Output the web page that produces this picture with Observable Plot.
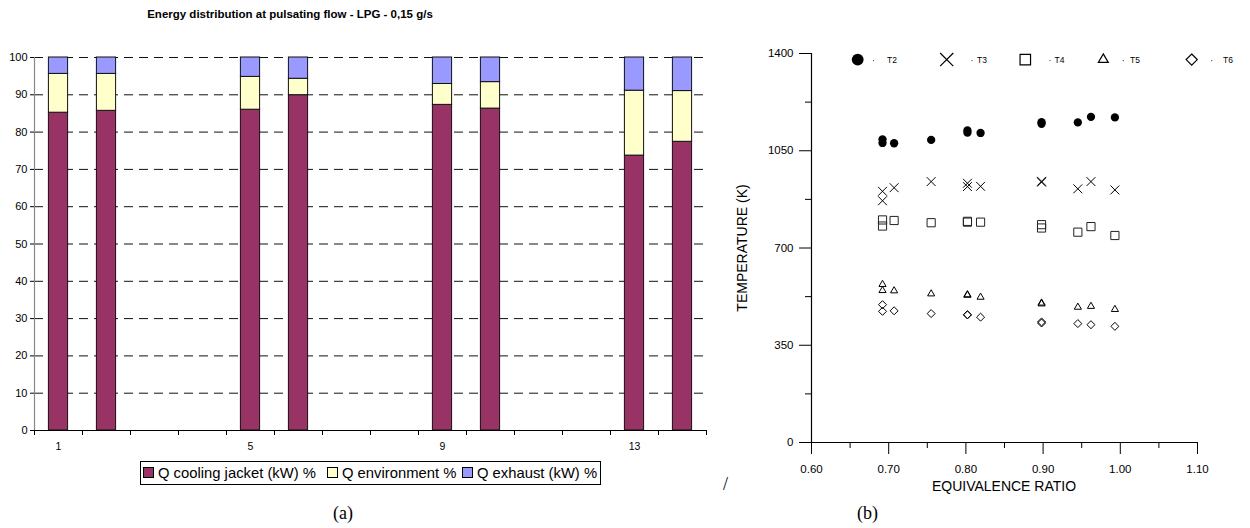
<!DOCTYPE html>
<html><head><meta charset="utf-8">
<script src="https://cdn.jsdelivr.net/npm/d3@7"></script>
<script src="https://cdn.jsdelivr.net/npm/@observablehq/plot@0.6"></script>
<style>
html,body{margin:0;padding:0;background:#fff;}
body{width:1250px;height:528px;position:relative;overflow:hidden;font-family:"Liberation Sans",Arial,sans-serif;color:#000;}
.abs{position:absolute;}
.sw{position:absolute;top:5px;width:11px;height:11px;border:1px solid #000;box-sizing:border-box;}
.lt{position:absolute;top:1px;font-size:14.8px;line-height:20px;white-space:nowrap;}
.cap{position:absolute;font-family:"Liberation Serif","Times New Roman",serif;font-size:18px;line-height:20px;}
</style></head><body>
<div id="titleA" class="abs" style="left:0;top:7px;width:580px;text-align:center;font-weight:bold;font-size:11.5px;line-height:14px;">Energy distribution at pulsating flow - LPG - 0,15 g/s</div>
<div id="left" class="abs" style="left:0;top:0"></div>
<div id="right" class="abs" style="left:720px;top:0"></div>
<div id="legA" class="abs" style="left:140px;top:461px;width:461px;height:24px;border:1px solid #000;box-sizing:border-box;"></div>
<div class="cap" style="left:333px;top:503px;">(a)</div>
<div class="cap" style="left:723px;top:474px;">/</div>
<div class="cap" style="left:857px;top:503px;">(b)</div>
<div class="abs" style="left:742px;top:248px;transform:translate(-50%,-50%) rotate(-90deg);font-size:14px;white-space:nowrap;">TEMPERATURE (K)</div>
<div class="abs" style="left:1004px;top:478px;transform:translateX(-50%);font-size:14px;white-space:nowrap;">EQUIVALENCE RATIO</div>
<svg id="legB" class="abs" style="left:0;top:0" width="1250" height="80"></svg>
<script>
// ---------- (a) energy distribution data ----------
const runNumbers     = [1, 2, 5, 6, 9, 10, 13, 14];
const qCoolingJacket = [85.2, 85.7, 86.0, 89.9, 87.3, 86.3, 73.7, 77.4];
const qEnvironment   = [10.4, 9.9, 8.8, 4.4, 5.6, 7.1, 17.4, 13.6];
const qExhaust       = [4.4, 4.4, 5.2, 5.7, 7.1, 6.6, 8.9, 9.0];
const seriesNames  = ["Q cooling jacket (kW) %", "Q environment %", "Q exhaust (kW) %"];
const seriesColors = ["#993366", "#FFFFCC", "#9999FF"];
const runBoundaryTicks = [0.5,1.5,2.5,3.5,4.5,5.5,6.5,7.5,8.5,9.5,10.5,11.5,12.5,13.5,14.5];
const runLabelTicks = [1, 5, 9, 13];
const pctTicks = [0,10,20,30,40,50,60,70,80,90,100];
const pctGrid  = [10,20,30,40,50,60,70,80,90,100];

// ---------- (b) temperature data ----------
const equivalenceRatio = [0.692,0.692,0.707,0.755,0.802,0.802,0.819,0.898,0.898,0.945,0.962,0.993];
const T2 = [1091,1078,1077,1089,1123,1115,1114,1153,1147,1152,1172,1170];
const T3 = [904,870,917,939,933,921,922,940,937,913,939,909];
const T4 = [801,779,799,791,796,793,793,784,772,757,777,745];
const T5 = [569,547,546,535,532,530,523,502,499,487,490,479];
const T6 = [496,472,474,464,460,459,451,434,430,428,424,418];
const tempMajorTicks = [0,350,700,1050,1400];
const tempMinorTicks = [175,525,875,1225];
const phiMajorTicks = [0.6,0.7,0.8,0.9,1.0,1.1];
const phiMinorTicks = [0.65,0.75,0.85,0.95,1.05];

// ---------- chart (a) ----------
const seriesValues = [qCoolingJacket, qEnvironment, qExhaust];
const energyRows = [];
runNumbers.forEach((run, i) => {
  seriesNames.forEach((s, k) => energyRows.push({run, series: s, value: seriesValues[k][i]}));
});
const halfBar = 0.2;
const chartA = Plot.plot({
  width: 720, height: 460,
  marginLeft: 34, marginRight: 14, marginTop: 57, marginBottom: 30,
  style: {fontFamily: "Liberation Sans, Arial, sans-serif", fontSize: "11px", background: "none", color: "#000"},
  x: {domain: [0.5, 14.5], label: null},
  y: {domain: [0, 100], label: null},
  color: {domain: seriesNames, range: seriesColors},
  marks: [
    Plot.ruleY(pctGrid, {stroke: "#111", strokeWidth: 1, strokeDasharray: "9,6"}),
    Plot.rectY(energyRows, Plot.stackY({x1: d => d.run - halfBar, x2: d => d.run + halfBar, y: "value", fill: "series", stroke: "#111", strokeWidth: 1})),
    Plot.ruleX([0.5], {y1: 0, y2: 100, stroke: "#888", strokeWidth: 1.2}),
    Plot.ruleY([0], {stroke: "#000", strokeWidth: 1.2}),
    Plot.axisY({ticks: pctTicks, tickSize: 4, tickPadding: 3, fontSize: 11, label: null, tickFormat: d => String(d)}),
    Plot.axisX({ticks: runBoundaryTicks, tickSize: 5, label: null, tickFormat: () => ""}),
    Plot.axisX({ticks: runLabelTicks, tickSize: 0, tickPadding: 12, fontSize: 10.5, label: null, tickFormat: d => String(d)})
  ]
});
document.getElementById("left").appendChild(chartA);

// legend (a)
const legA = document.getElementById("legA");
const swLeft = [2, 186, 321], txLeft = [17, 201, 336];
seriesNames.forEach((s, k) => {
  const sw = document.createElement("div"); sw.className = "sw"; sw.style.left = swLeft[k] + "px"; sw.style.background = seriesColors[k];
  const tx = document.createElement("div"); tx.className = "lt"; tx.style.left = txLeft[k] + "px"; tx.textContent = s;
  legA.appendChild(sw); legA.appendChild(tx);
});

// ---------- chart (b) ----------
const seriesT = [["T2", T2], ["T3", T3], ["T4", T4], ["T5", T5], ["T6", T6]];
const tempRows = [];
seriesT.forEach(([name, arr]) => arr.forEach((t, i) => tempRows.push({name, phi: equivalenceRatio[i], t})));
const rowsOf = n => tempRows.filter(d => d.name === n);
const chartB = Plot.plot({
  width: 530, height: 500,
  marginLeft: 91, marginRight: 53, marginTop: 53, marginBottom: 58,
  style: {fontFamily: "Liberation Sans, Arial, sans-serif", fontSize: "11.5px", background: "none", color: "#000"},
  x: {domain: [0.6, 1.1], label: null},
  y: {domain: [0, 1400], label: null},
  marks: [
    Plot.ruleX([0.6], {y1: 0, y2: 1400, stroke: "#000", strokeWidth: 1.2}),
    Plot.ruleY([0], {x1: 0.6, x2: 1.1, stroke: "#000", strokeWidth: 1.2}),
    Plot.axisY({ticks: tempMajorTicks, tickSize: 12, tickPadding: 6, fontSize: 11.5, label: null, tickFormat: d => String(d)}),
    Plot.axisY({ticks: tempMinorTicks, tickSize: 6, label: null, tickFormat: () => ""}),
    Plot.axisX({ticks: phiMajorTicks, tickSize: 12, tickPadding: 10, fontSize: 11.5, label: null, tickFormat: d3.format(".2f")}),
    Plot.axisX({ticks: phiMinorTicks, tickSize: 6, label: null, tickFormat: () => ""}),
    Plot.dot(rowsOf("T2"), {x: "phi", y: "t", symbol: "circle", r: 4.15, fill: "#000", stroke: "none"}),
    Plot.dot(rowsOf("T3"), {x: "phi", y: "t", symbol: "times", r: 4.1, stroke: "#000", strokeWidth: 1}),
    Plot.dot(rowsOf("T4"), {x: "phi", y: "t", symbol: "square2", r: 5.2, stroke: "#222", strokeWidth: 1, fill: "none"}),
    Plot.dot(rowsOf("T5"), {x: "phi", y: "t", symbol: "triangle2", r: 3.4, stroke: "#000", strokeWidth: 1, fill: "none"}),
    Plot.dot(rowsOf("T6"), {x: "phi", y: "t", symbol: "diamond2", r: 3.6, stroke: "#000", strokeWidth: 1, fill: "none"})
  ]
});
document.getElementById("right").appendChild(chartB);

// legend (b)
const legB = d3.select("#legB");
const ly = 59.6;
const legItems = [
  {name: "T2", sx: 857.7, dx: 873.5, tx: 887, sym: d3.symbolCircle, size: 110, fill: "#000", stroke: "none"},
  {name: "T3", sx: 946.7, dx: 972, tx: 977, sym: d3.symbolTimes, size: 115, fill: "none", stroke: "#000"},
  {name: "T4", sx: 1025.3, dx: 1050, tx: 1054.5, sym: d3.symbolSquare2, size: 140, fill: "none", stroke: "#000"},
  {name: "T5", sx: 1103.3, dx: 1123.3, tx: 1130, sym: d3.symbolTriangle2, size: 70, fill: "none", stroke: "#000"},
  {name: "T6", sx: 1191.7, dx: 1211.7, tx: 1223, sym: d3.symbolDiamond2, size: 80, fill: "none", stroke: "#000"}
];
legItems.forEach(it => {
  legB.append("path").attr("transform", `translate(${it.sx},${ly})`).attr("d", d3.symbol(it.sym, it.size)())
    .attr("fill", it.fill).attr("stroke", it.stroke).attr("stroke-width", 1.2);
  legB.append("circle").attr("cx", it.dx).attr("cy", ly + 1).attr("r", 0.7).attr("fill", "#444");
  legB.append("text").attr("x", it.tx).attr("y", ly + 3).attr("font-size", 8.5).attr("font-family", "Liberation Sans, Arial, sans-serif").text(it.name);
});
</script>
</body></html>
